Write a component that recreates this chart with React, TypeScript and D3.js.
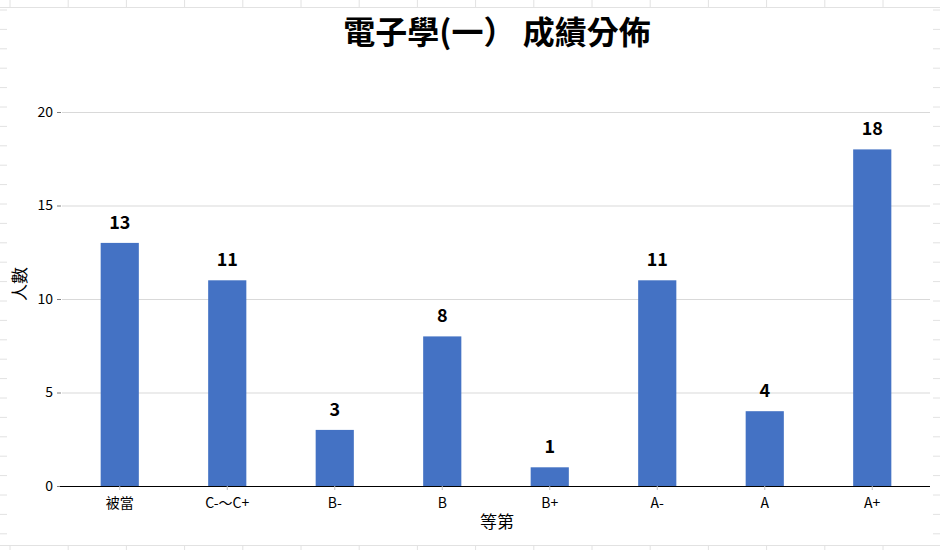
import * as d3 from "d3";
import { useRef, useEffect } from "react";

const categories = ["被當", "C-～C+", "B-", "B", "B+", "A-", "A", "A+"];
const counts = [13, 11, 3, 8, 1, 11, 4, 18];
const yTicks = [0, 5, 10, 15, 20];

const font = "'Noto Sans CJK TC', 'Noto Sans', sans-serif";

export default function App() {
  const width = 940;
  const height = 550;
  const marginLeft = 61;
  const marginRight = 10;
  const plotTop = 112;
  const plotBottom = 486;

  const gx = useRef<SVGGElement>(null);
  const gy = useRef<SVGGElement>(null);

  // barras centradas num passo de ~107px
  const x = d3.scaleBand()
    .domain(categories)
    .range([66, 926])
    .paddingInner(0.645)
    .paddingOuter(0.3225);

  const y = d3.scaleLinear()
    .domain([0, 20])
    .range([plotBottom, plotTop]);

  useEffect(() => {
    const ax = d3.select(gx.current);
    ax.call(d3.axisBottom(x).tickSize(4).tickSizeOuter(0) as any);
    ax.select(".domain").remove();
    ax.selectAll(".tick line").attr("stroke", "#bfbfbf");
    ax.selectAll(".tick text")
      .attr("font-size", 14)
      .attr("font-family", font)
      .attr("fill", "#000")
      .attr("dy", "1.05em");

    const ay = d3.select(gy.current);
    ay.call(d3.axisLeft(y).tickValues(yTicks).tickSize(4).tickPadding(4) as any);
    ay.select(".domain").remove();
    ay.selectAll(".tick line").attr("stroke", "#7f7f7f");
    ay.selectAll(".tick text")
      .attr("font-size", 14)
      .attr("font-family", font)
      .attr("fill", "#000");
  }, []);

  // fundo de planilha (linhas das células)
  const cols = d3.range(10, width, 58.2);
  const rowsTicks = d3.range(10, height - 10, 19.4);

  return (
    <svg width={width} height={height} style={{ position: "absolute", left: 0, top: 0, background: "#fff" }}>
      {/* linhas da planilha */}
      <g stroke="#e2e2e2" strokeWidth={1}>
        <line x1={0} x2={width} y1={7.5} y2={7.5} />
        <line x1={0} x2={width} y1={545.5} y2={545.5} />
        {cols.map((c, i) => (
          <g key={i}>
            <line x1={c} x2={c} y1={0} y2={7} />
            <line x1={c} x2={c} y1={545} y2={height} />
          </g>
        ))}
        {rowsTicks.map((r, i) => (
          <g key={i}>
            <line x1={0} x2={7} y1={r} y2={r} />
            <line x1={933} x2={width} y1={r} y2={r} />
          </g>
        ))}
      </g>

      {/* grade horizontal */}
      <g stroke="#d9d9d9">
        {yTicks.filter(t => t > 0).map(t => (
          <line key={t} x1={marginLeft + 1} x2={width - marginRight} y1={y(t) + 0.5} y2={y(t) + 0.5} />
        ))}
      </g>

      <g ref={gy} transform={`translate(${marginLeft},0)`} />

      {/* barras */}
      <g fill="#4472c4">
        {counts.map((d, i) => (
          <rect
            key={i}
            x={x(categories[i])}
            y={y(d)}
            width={x.bandwidth()}
            height={y(0) - y(d)}
          />
        ))}
      </g>

      {/* rótulos de valor */}
      <g fontFamily={font} fontWeight="bold" fontSize={18} textAnchor="middle" fill="#000">
        {counts.map((d, i) => (
          <text key={i} x={x(categories[i])! + x.bandwidth() / 2} y={y(d) - 14}>{d}</text>
        ))}
      </g>

      {/* eixo X */}
      <line x1={marginLeft - 1} x2={width - marginRight} y1={plotBottom + 0.5} y2={plotBottom + 0.5} stroke="#000" />
      <g ref={gx} transform={`translate(0,${plotBottom})`} />

      {/* títulos */}
      <text x={497} y={44} textAnchor="middle" fontFamily={font} fontWeight="bold" fontSize={32} fill="#000">
        電子學(一）  成績分佈
      </text>
      <text x={497} y={528} textAnchor="middle" fontFamily={font} fontSize={17} fill="#000">等第</text>
      <text transform="translate(26,284) rotate(-90)" textAnchor="middle" fontFamily={font} fontSize={17} fill="#000">人數</text>
    </svg>
  );
}
